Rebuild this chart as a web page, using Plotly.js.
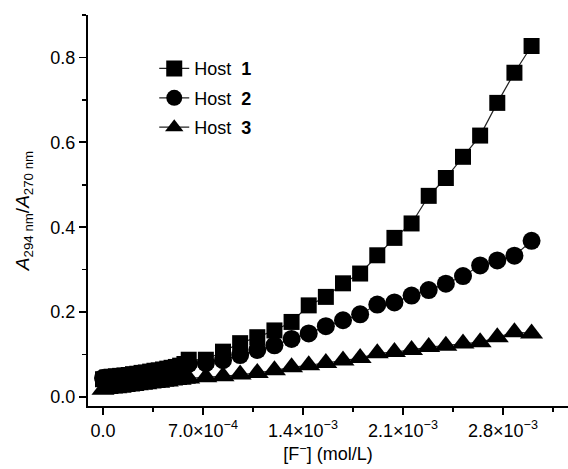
<!DOCTYPE html>
<html>
<head>
<meta charset="utf-8">
<script src="https://cdn.plot.ly/plotly-3.0.1.min.js"></script>
<style>html,body{margin:0;padding:0;background:#fff;}#chart{width:568px;height:469px;}</style>
</head>
<body>
<div id="chart"></div>
<script>
// fluoride concentration (mol/L)
const xConc = [
  0, 0.3e-4, 0.6e-4, 0.9e-4, 1.2e-4, 1.5e-4, 1.8e-4, 2.1e-4, 2.4e-4, 2.7e-4,
  3.0e-4, 3.3e-4, 3.6e-4, 3.9e-4, 4.2e-4, 4.5e-4, 4.8e-4, 5.1e-4, 5.4e-4, 5.7e-4,
  6.0e-4, 7.2e-4, 8.4e-4, 9.6e-4, 10.8e-4, 12.0e-4, 13.2e-4, 14.4e-4, 15.6e-4, 16.8e-4,
  18.0e-4, 19.2e-4, 20.4e-4, 21.6e-4, 22.8e-4, 24.0e-4, 25.2e-4, 26.4e-4, 27.6e-4, 28.8e-4, 30.0e-4
];
const host1 = [
  0.042, 0.046, 0.048, 0.049, 0.050, 0.051, 0.052, 0.054, 0.055, 0.057,
  0.058, 0.060, 0.062, 0.063, 0.065, 0.067, 0.069, 0.071, 0.074, 0.078,
  0.088, 0.088, 0.107, 0.127, 0.141, 0.157, 0.177, 0.216, 0.236, 0.268,
  0.291, 0.334, 0.375, 0.409, 0.474, 0.516, 0.566, 0.616, 0.693, 0.764, 0.827
];
const host2 = [
  0.045, 0.044, 0.044, 0.045, 0.046, 0.047, 0.048, 0.049, 0.050, 0.051,
  0.052, 0.054, 0.055, 0.057, 0.059, 0.061, 0.063, 0.066, 0.069, 0.072,
  0.078, 0.080, 0.087, 0.099, 0.111, 0.122, 0.137, 0.150, 0.167, 0.181,
  0.195, 0.218, 0.223, 0.239, 0.252, 0.267, 0.285, 0.310, 0.322, 0.333, 0.368
];
const host3 = [
  0.017, 0.019, 0.020, 0.021, 0.022, 0.024, 0.025, 0.026, 0.028, 0.029,
  0.030, 0.032, 0.033, 0.034, 0.036, 0.037, 0.039, 0.040, 0.041, 0.043,
  0.044, 0.047, 0.049, 0.053, 0.057, 0.063, 0.070, 0.075, 0.080, 0.086,
  0.092, 0.103, 0.106, 0.111, 0.118, 0.121, 0.126, 0.129, 0.141, 0.153, 0.150
];
const seriesNames = ['Host\u00a0 <b>1</b>', 'Host\u00a0 <b>2</b>', 'Host\u00a0 <b>3</b>'];
const xTickVals = [0, 7.0e-4, 1.4e-3, 2.1e-3, 2.8e-3];
const xTickText = ['0.0', '7.0\u00d710<sup>\u22124</sup>', '1.4\u00d710<sup>\u22123</sup>', '2.1\u00d710<sup>\u22123</sup>', '2.8\u00d710<sup>\u22123</sup>'];
const xMinorVals = [3.5e-4, 1.05e-3, 1.75e-3, 2.45e-3, 3.15e-3];

const fam = '"Liberation Sans", Arial, sans-serif';
const font = {family: fam, size: 18, color: '#000'};
const titleFont = {family: fam, size: 19, color: '#000'};
const lineStyle = {color: '#222', width: 1.2};
const mLine = {color: '#000', width: 0};

const traces = [
  {x: xConc, y: host1, name: seriesNames[0], type: 'scatter', mode: 'lines+markers',
   line: lineStyle, marker: {symbol: 'square', size: 16, color: '#000', line: mLine}, legendgroup: 'a'},
  {x: xConc, y: host2, name: seriesNames[1], type: 'scatter', mode: 'lines+markers',
   line: lineStyle, marker: {symbol: 'circle', size: 18, color: '#000', line: mLine}, legendgroup: 'b'},
  {x: xConc, y: host3, name: seriesNames[2], type: 'scatter', mode: 'lines+markers',
   line: lineStyle, marker: {symbol: 'triangle-up', size: 20, color: '#000', line: mLine}, legendgroup: 'c'}
];

const layout = {
  width: 568, height: 469,
  margin: {l: 88, r: 0, t: 15, b: 63},
  paper_bgcolor: '#fff', plot_bgcolor: '#fff',
  font: font,
  showlegend: true,
  legend: {x: 0.138, y: 0.91, xanchor: 'left', yanchor: 'top', bgcolor: 'rgba(0,0,0,0)',
           font: font, tracegroupgap: 3},
  xaxis: {
    range: [-1.05e-4, 3.255e-3],
    tickmode: 'array', tickvals: xTickVals, ticktext: xTickText,
    ticks: 'outside', ticklen: 7, tickwidth: 1.8, tickcolor: '#000',
    minor: {tickmode: 'array', tickvals: xMinorVals, ticks: 'outside', ticklen: 4, tickwidth: 1.5, tickcolor: '#000'},
    showline: true, linecolor: '#000', linewidth: 2,
    showgrid: false, zeroline: false, automargin: false,
    tickfont: font,
    title: {text: '[F<sup>\u2212</sup>] (mol/L)', font: font, standoff: 8}
  },
  yaxis: {
    range: [-0.021, 0.9],
    tick0: 0, dtick: 0.2, tickformat: '.1f',
    ticks: 'outside', ticklen: 7, tickwidth: 1.8, tickcolor: '#000',
    minor: {dtick: 0.1, tick0: 0, ticks: 'outside', ticklen: 4, tickwidth: 1.5, tickcolor: '#000'},
    showline: true, linecolor: '#000', linewidth: 2,
    showgrid: false, zeroline: false, automargin: false,
    tickfont: font,
    title: {text: '<i>A</i><sub>294 nm</sub>/<i>A</i><sub>270 nm</sub>', font: titleFont, standoff: 16}
  }
};

Plotly.newPlot('chart', traces, layout, {displayModeBar: false, staticPlot: true});
</script>
</body>
</html>
